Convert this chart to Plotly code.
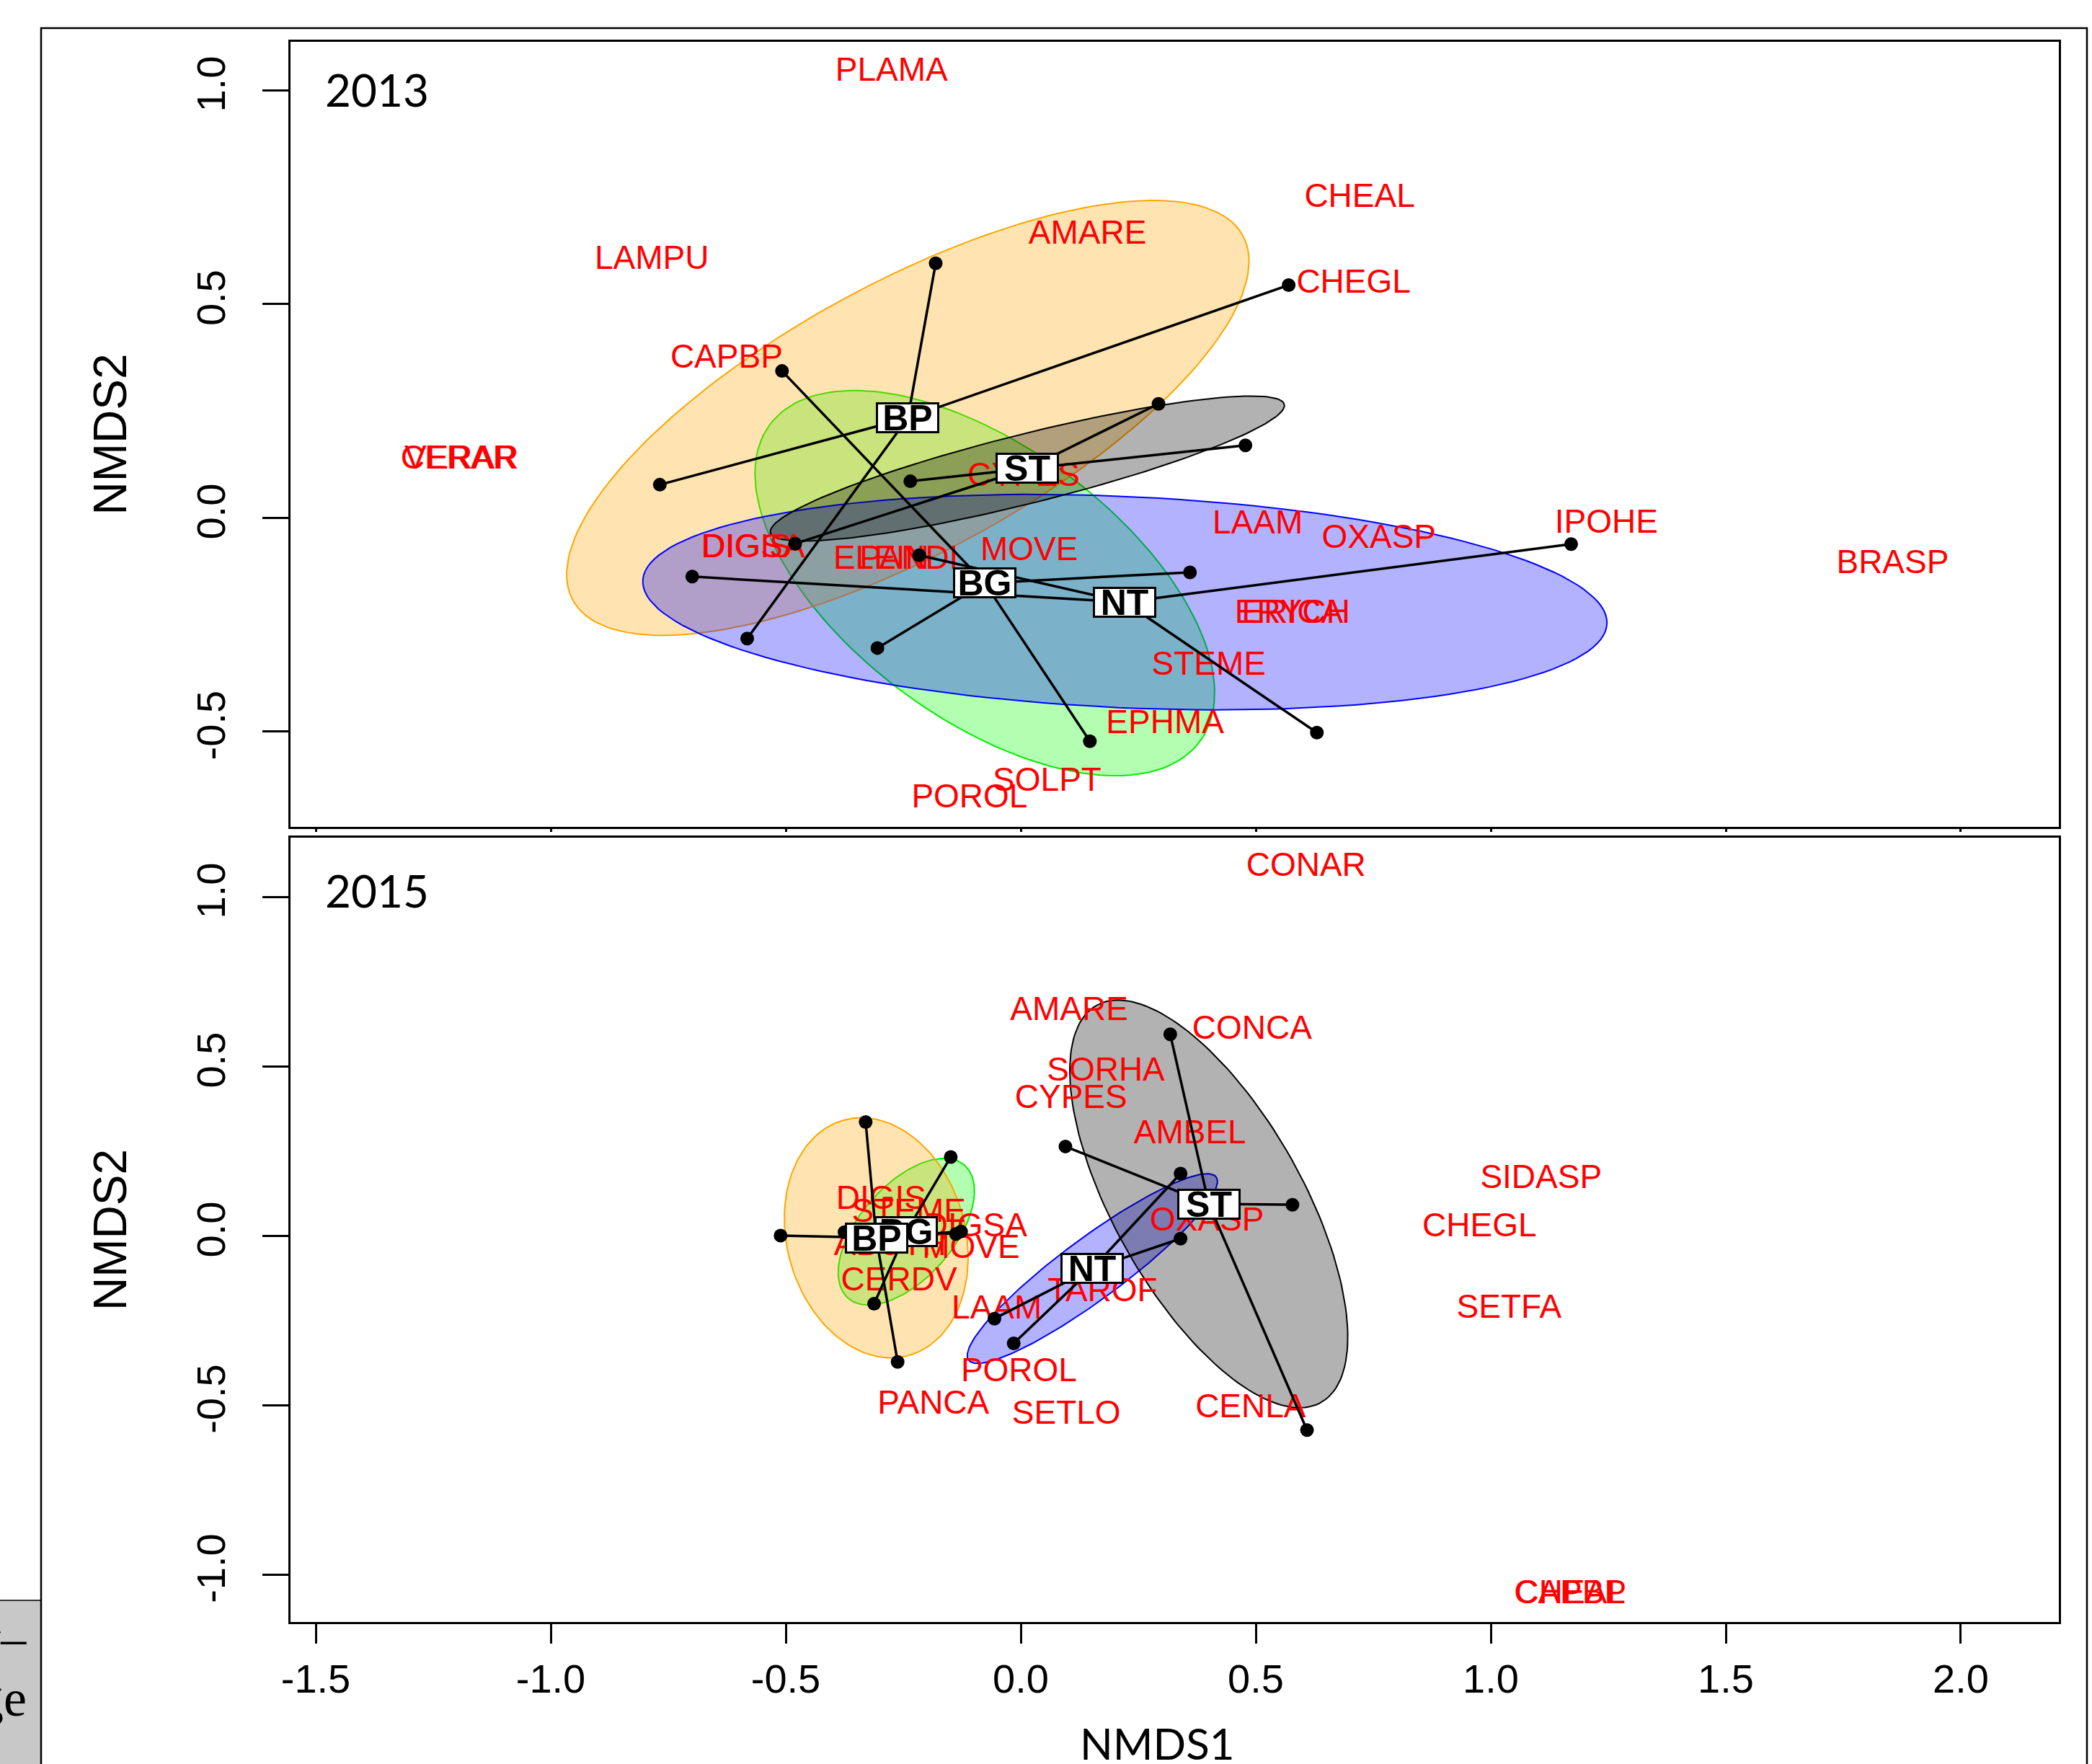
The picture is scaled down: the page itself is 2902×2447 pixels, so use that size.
import numpy as np
import plotly.graph_objects as go

W, H = 2902, 2447

# ---------------- data ----------------
group_names = ["BG", "BP", "NT", "ST"]

# 2013 site scores (NMDS1, NMDS2) and their groups
site13_group = ["BP"] * 4 + ["BG"] * 4 + ["NT"] * 4 + ["ST"] * 4
site13_x = [-0.181, 0.570, -0.768, -0.582,
            -0.508, -0.305, 0.147, 0.360,
            -0.699, -0.216, 1.171, 0.630,
            0.293, 0.478, -0.235, -0.480]
site13_y = [0.595, 0.544, 0.077, -0.283,
            0.343, -0.305, -0.523, -0.128,
            -0.138, -0.088, -0.062, -0.503,
            0.266, 0.169, 0.085, -0.061]

# 2015 site scores
site15_group = ["BP"] * 4 + ["BG"] * 4 + ["NT"] * 4 + ["ST"] * 4
site15_x = [-0.330, -0.511, -0.262, -0.127,
            -0.149, -0.312, -0.375, -0.138,
            0.340, 0.340, -0.056, -0.015,
            0.318, 0.609, 0.095, 0.578]
site15_y = [0.335, 0.000, -0.373, 0.012,
            0.232, -0.201, 0.010, 0.005,
            0.183, -0.009, -0.245, -0.318,
            0.594, -0.574, 0.263, 0.091]

# 2013 species scores
species13 = ["PLAMA", "CHEAL", "AMARE", "LAMPU", "CHEGL", "CAPBP", "CERAR", "VERAR",
             "CYPES", "DIGIS", "DIGSA", "ELEIN", "PANDI", "MOVE", "LAAM", "OXASP",
             "IPOHE", "BRASP", "ERICA", "ERYCH", "STEME", "EPHMA", "SOLPT", "POROL"]
species13_x = [-0.275, 0.721, 0.142, -0.785, 0.708, -0.626, -1.196, -1.190,
               0.006, -0.584, -0.569, -0.297, -0.238, 0.018, 0.504, 0.762,
               1.246, 1.855, 0.578, 0.578, 0.400, 0.307, 0.056, -0.109]
species13_y = [1.042, 0.746, 0.661, 0.601, 0.546, 0.370, 0.134, 0.134,
               0.094, -0.073, -0.073, -0.100, -0.100, -0.080, -0.017, -0.051,
               -0.016, -0.110, -0.227, -0.227, -0.348, -0.484, -0.619, -0.658]

# 2015 species scores
species15 = ["CONAR", "AMARE", "CONCA", "SORHA", "CYPES", "AMBEL", "SIDASP", "CHEGL",
             "OXASP", "SETFA", "TAROF", "LAAM", "POROL", "PANCA", "SETLO", "CENLA",
             "CHEAL", "CAPBP", "DIGIS", "STEME", "DIGSA", "MOVE", "CERDV", "ABUTH"]
species15_x = [0.607, 0.103, 0.492, 0.181, 0.107, 0.360, 1.107, 0.976,
               0.396, 1.039, 0.174, -0.051, -0.004, -0.186, 0.097, 0.489,
               1.169, 1.169, -0.297, -0.238, -0.096, -0.106, -0.259, -0.278]
species15_y = [1.087, 0.660, 0.605, 0.482, 0.401, 0.297, 0.165, 0.023,
               0.040, -0.217, -0.169, -0.221, -0.406, -0.501, -0.531, -0.511,
               -1.061, -1.061, 0.104, 0.065, 0.023, -0.041, -0.137, -0.034]

x_ticks = [-1.5, -1.0, -0.5, 0.0, 0.5, 1.0, 1.5, 2.0]
x_ticktext = ["-1.5", "-1.0", "-0.5", "0.0", "0.5", "1.0", "1.5", "2.0"]
y13_ticks = [-0.5, 0.0, 0.5, 1.0]
y13_ticktext = ["-0.5", "0.0", "0.5", "1.0"]
y15_ticks = [-1.0, -0.5, 0.0, 0.5, 1.0]
y15_ticktext = ["-1.0", "-0.5", "0.0", "0.5", "1.0"]

# ---------------- styles ----------------
fill_colors = {"BG": "rgba(0,255,0,0.30)", "BP": "rgba(255,165,0,0.30)",
               "NT": "rgba(0,0,255,0.30)", "ST": "rgba(0,0,0,0.30)"}
line_colors = {"BG": "#00ee00", "BP": "#ffa500", "NT": "#0000ff", "ST": "#000000"}
SANS = "Liberation Sans, Arial, sans-serif"
CHI2_95 = -2.0 * np.log(0.05)


def se_ellipse(xs, ys, n=160):
    pts = np.column_stack([xs, ys])
    c = pts.mean(axis=0)
    cov = np.cov(pts.T) / len(pts)
    vals, vecs = np.linalg.eigh(cov)
    t = np.linspace(0, 2 * np.pi, n)
    circ = np.vstack([np.cos(t), np.sin(t)])
    ell = vecs @ (np.sqrt(np.maximum(vals, 0) * CHI2_95)[:, None] * circ)
    return c[0] + ell[0], c[1] + ell[1]


fig = go.Figure()
annotations = []


def add_panel(groups, xs, ys, sp, spx, spy, xa, ya):
    xs = np.asarray(xs, float)
    ys = np.asarray(ys, float)
    g = np.asarray(groups)
    cents = {}
    for name in group_names:
        m = g == name
        ex, ey = se_ellipse(xs[m], ys[m])
        fig.add_trace(go.Scatter(x=ex, y=ey, mode="lines", fill="toself",
                                 fillcolor=fill_colors[name],
                                 line=dict(color=line_colors[name], width=2),
                                 xaxis=xa, yaxis=ya, hoverinfo="skip", showlegend=False))
        cents[name] = (xs[m].mean(), ys[m].mean())
    fig.add_trace(go.Scatter(x=spx, y=spy, mode="text", text=sp,
                             textposition="middle center",
                             textfont=dict(family=SANS, size=46, color="#ff0000"),
                             xaxis=xa, yaxis=ya, hoverinfo="skip", showlegend=False))
    lx, ly = [], []
    for name in group_names:
        m = g == name
        cx, cy = cents[name]
        for px_, py_ in zip(xs[m], ys[m]):
            lx += [cx, px_, None]
            ly += [cy, py_, None]
    fig.add_trace(go.Scatter(x=lx, y=ly, mode="lines", line=dict(color="black", width=3.5),
                             xaxis=xa, yaxis=ya, hoverinfo="skip", showlegend=False))
    fig.add_trace(go.Scatter(x=xs, y=ys, mode="markers",
                             marker=dict(size=19, color="black"),
                             xaxis=xa, yaxis=ya, hoverinfo="skip", showlegend=False))
    for name in group_names:
        cx, cy = cents[name]
        annotations.append(dict(x=cx, y=cy, xref=xa, yref=ya, text=name, showarrow=False,
                                font=dict(family=SANS, size=50, color="black", weight="bold"),
                                bgcolor="white", bordercolor="black", borderwidth=3,
                                borderpad=0, width=82, height=37,
                                xanchor="center", yanchor="middle"))


add_panel(site13_group, site13_x, site13_y, species13, species13_x, species13_y, "x2", "y2")
add_panel(site15_group, site15_x, site15_y, species15, species15_x, species15_y, "x", "y")

# ---------------- layout ----------------
xdom = [403 / W, 2856 / W]
ydom_top = [1 - 1147 / H, 1 - 58 / H]
ydom_bot = [1 - 2250 / H, 1 - 1162 / H]
x_range = [-1.5537, 2.2086]
y_range_top = [-0.7234, 1.1130]
y_range_bot = [-1.1404, 1.1745]

axis_common = dict(showline=True, linecolor="black", linewidth=3, mirror=True,
                   showgrid=False, zeroline=False, ticks="outside", tickcolor="black",
                   tickwidth=2.5, automargin=False,
                   tickfont=dict(family=SANS, size=56, color="black"))

fig.update_layout(
    width=W, height=H, autosize=False,
    margin=dict(l=0, r=0, t=0, b=0, pad=0, autoexpand=False),
    paper_bgcolor="white", plot_bgcolor="white",
    showlegend=False,
    xaxis=dict(domain=xdom, range=x_range, anchor="y", tickvals=x_ticks,
               ticktext=x_ticktext, ticklen=27, ticklabelstandoff=1, **axis_common),
    yaxis=dict(domain=ydom_bot, range=y_range_bot, anchor="x", tickvals=y15_ticks,
               ticktext=y15_ticktext, ticklen=36, tickangle=-90, ticklabelstandoff=30,
               **axis_common),
    xaxis2=dict(domain=xdom, range=x_range, anchor="y2", tickvals=x_ticks,
                ticklen=4, showticklabels=False, **axis_common),
    yaxis2=dict(domain=ydom_top, range=y_range_top, anchor="x2", tickvals=y13_ticks,
                ticktext=y13_ticktext, ticklen=36, tickangle=-90, ticklabelstandoff=30,
                **axis_common),
)

# panel year labels
annotations.append(dict(x=(449 - 403) / (2856 - 403), y=(1147 - 124) / (1147 - 58),
                        xref="x2 domain", yref="y2 domain", text="2013", showarrow=False,
                        xanchor="left", yanchor="middle",
                        font=dict(family="Lato, sans-serif", size=62, color="black")))
annotations.append(dict(x=(449 - 403) / (2856 - 403), y=(2250 - 1235) / (2250 - 1162),
                        xref="x domain", yref="y domain", text="2015", showarrow=False,
                        xanchor="left", yanchor="middle",
                        font=dict(family="Lato, sans-serif", size=62, color="black")))
# axis titles
for yr in ["y2 domain", "y domain"]:
    annotations.append(dict(x=153 / W, y=0.5, xref="paper", yref=yr, text="NMDS2",
                            showarrow=False, textangle=-90, xanchor="center", yanchor="middle",
                            font=dict(family=SANS, size=64, color="black")))
annotations.append(dict(x=1605 / W, y=1 - 2418 / H, xref="paper", yref="paper", text="NMDS1",
                        showarrow=False, xanchor="center", yanchor="middle",
                        font=dict(family="Lato, sans-serif", size=60, color="black")))
# cropped fragments of surrounding page text
annotations.append(dict(x=39 / W, y=1 - 2272 / H, xref="paper", yref="paper", text="ry\u2013",
                        showarrow=False, xanchor="right", yanchor="middle",
                        font=dict(family="Liberation Serif, serif", size=70, color="black")))
annotations.append(dict(x=39 / W, y=1 - 2356 / H, xref="paper", yref="paper", text="age",
                        showarrow=False, xanchor="right", yanchor="middle",
                        font=dict(family="Liberation Serif, serif", size=72, color="black")))

fig.update_layout(annotations=annotations)

# page frame and grey side box
fig.update_layout(shapes=[
    dict(type="rect", xref="paper", yref="paper", x0=-0.02, x1=57 / W,
         y0=-0.05, y1=1 - 2220 / H, fillcolor="#c8c8c8",
         line=dict(color="#333333", width=2), layer="below"),
    dict(type="rect", xref="paper", yref="paper", x0=57 / W, x1=2895 / W,
         y0=-0.05, y1=1 - 39 / H, line=dict(color="black", width=2.5),
         fillcolor="rgba(0,0,0,0)", layer="below"),
])

fig.write_html("out.html",
               config={"displayModeBar": False},
               post_script="document.body.style.margin='0px';"
                           "document.body.style.overflow='hidden';")
